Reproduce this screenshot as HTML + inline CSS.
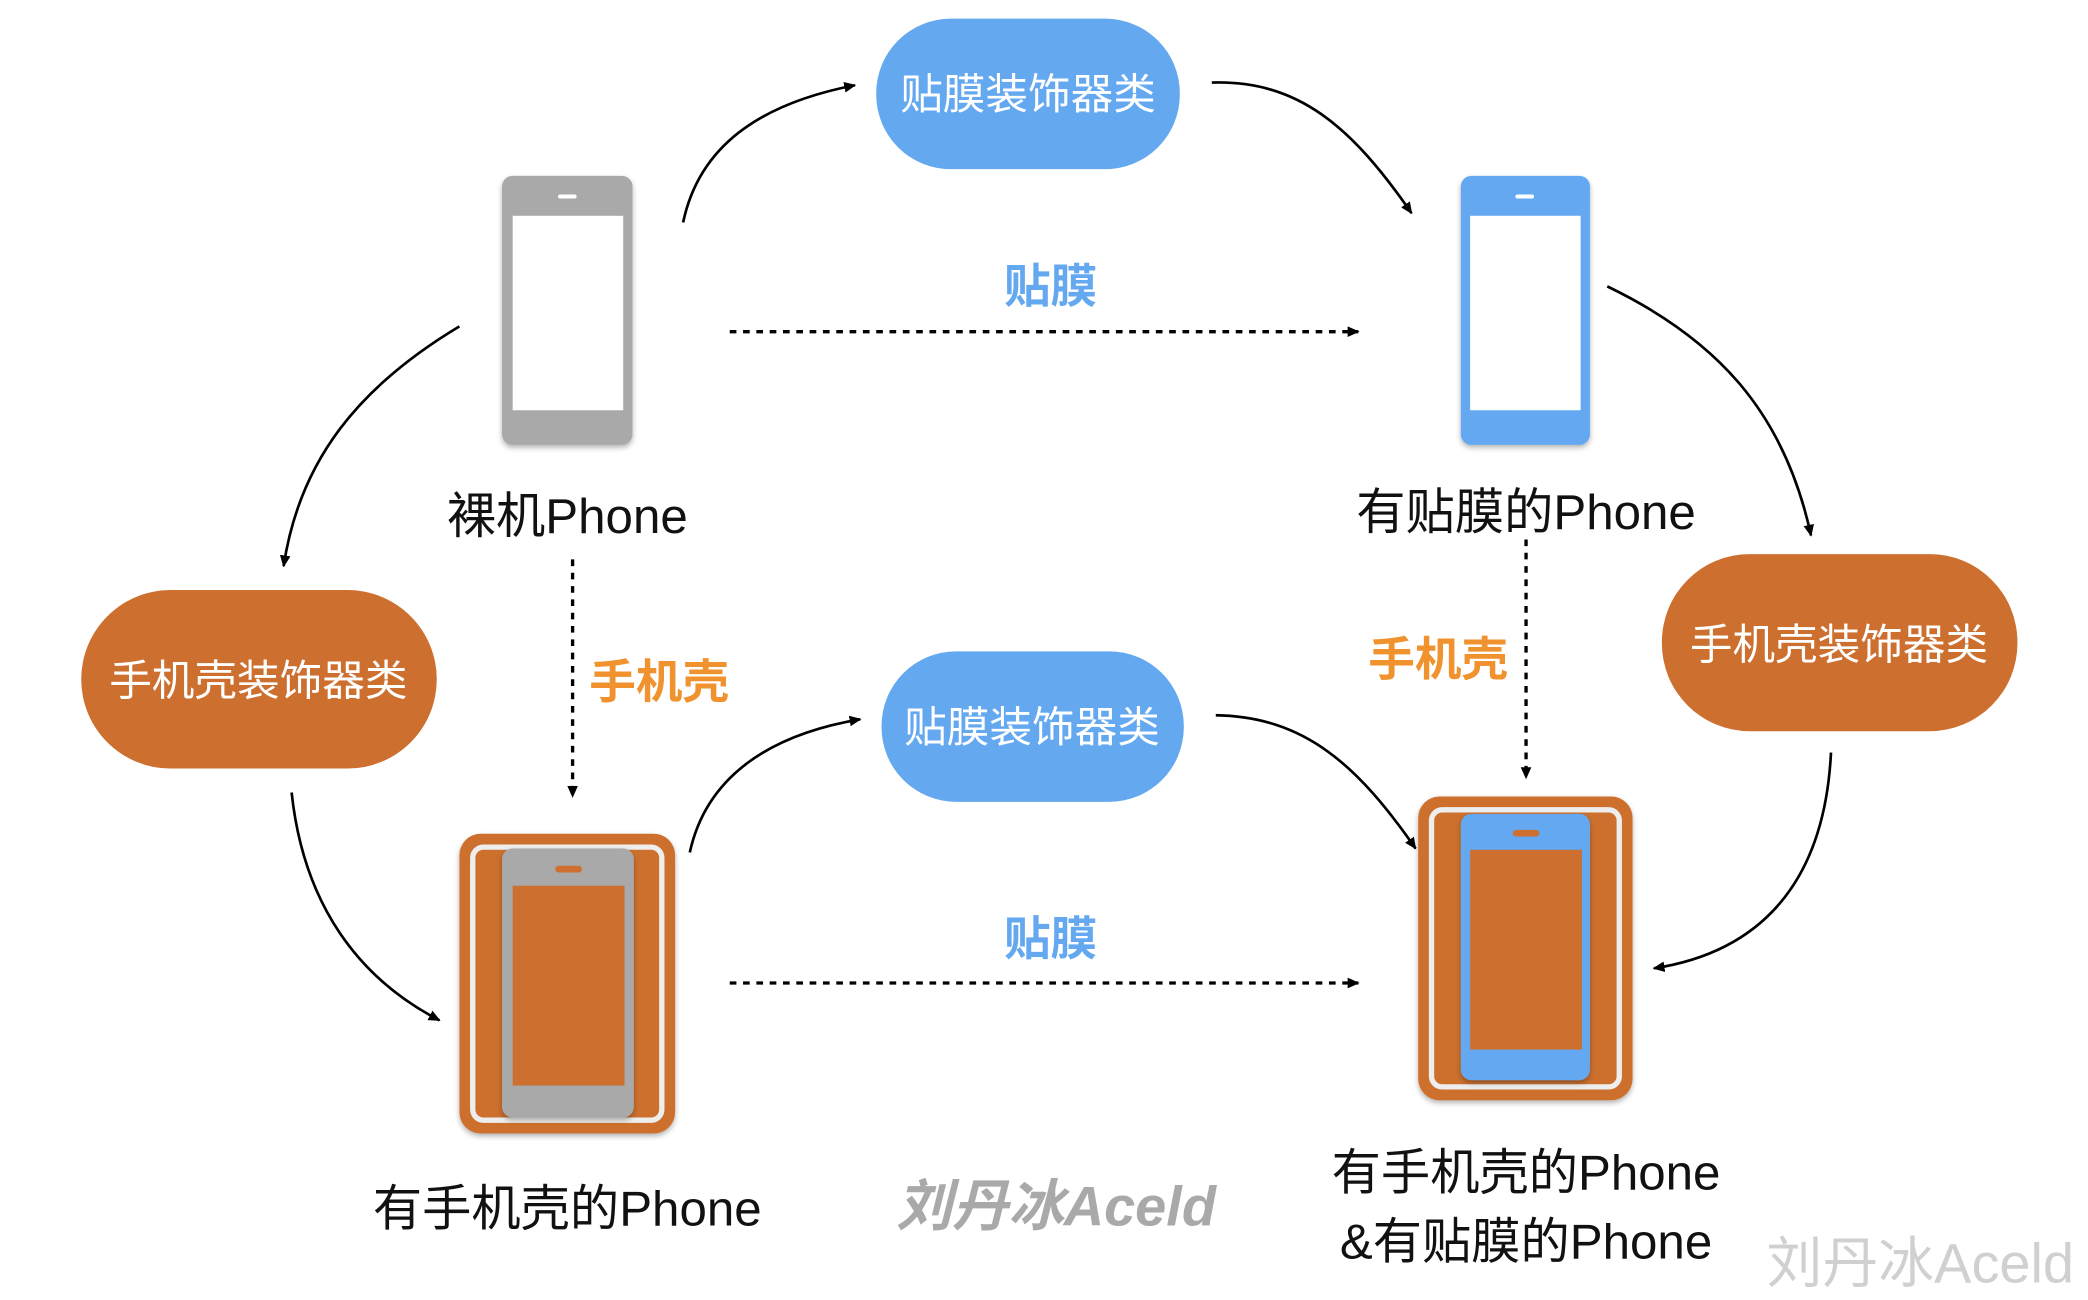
<!DOCTYPE html>
<html><head><meta charset="utf-8"><style>
html,body{margin:0;padding:0;background:#fff;}
svg{display:block;}
text{font-family:"Liberation Sans","Noto Sans CJK SC",sans-serif;}
</style></head><body>
<svg width="2088" height="1300" viewBox="0 0 1568 976" preserveAspectRatio="none" xmlns="http://www.w3.org/2000/svg">
<defs>
<marker id="a" markerWidth="10" markerHeight="10" refX="8" refY="5" orient="auto" markerUnits="userSpaceOnUse"><path d="M0,1 L9,5 L0,9 Z" fill="#000"/></marker>
<filter id="sh" x="-20%" y="-20%" width="140%" height="140%"><feDropShadow dx="0" dy="2" stdDeviation="2" flood-opacity="0.3"/></filter>
</defs>
<rect x="658" y="14" width="228" height="113" rx="56" fill="#64a8f0"/>
<text x="772" y="82" font-size="32" fill="#fff" text-anchor="middle">贴膜装饰器类</text>
<rect x="662" y="489" width="227" height="113" rx="56" fill="#64a8f0"/>
<text x="775" y="557" font-size="32" fill="#fff" text-anchor="middle">贴膜装饰器类</text>
<rect x="61" y="443" width="267" height="134" rx="67" fill="#cd6f2f"/>
<text x="194" y="522" font-size="32" fill="#fff" text-anchor="middle">手机壳装饰器类</text>
<rect x="1248" y="416" width="267" height="133" rx="66" fill="#cd6f2f"/>
<text x="1381" y="495" font-size="32" fill="#fff" text-anchor="middle">手机壳装饰器类</text>
<g filter="url(#sh)"><rect x="377" y="132" width="98" height="202" rx="8" fill="#a8a9a8"/></g>
<rect x="385" y="162" width="83" height="146" fill="#fff"/>
<rect x="419" y="146" width="14" height="3" rx="1.5" fill="#fff"/>
<g filter="url(#sh)"><rect x="1097" y="132" width="97" height="202" rx="8" fill="#64a8f0"/></g>
<rect x="1104" y="162" width="83" height="146" fill="#fff"/>
<rect x="1138" y="146" width="14" height="3" rx="1.5" fill="#fff"/>
<g filter="url(#sh)"><rect x="345" y="626" width="162" height="225" rx="16" fill="#cd6f2f"/></g>
<rect x="355" y="636" width="142" height="205" rx="8" fill="none" stroke="#eee" stroke-width="4"/>
<g filter="url(#sh)"><rect x="377" y="637" width="99" height="202" rx="8" fill="#a8a9a8"/></g>
<rect x="385" y="665" width="84" height="150" fill="#cd6f2f"/>
<rect x="417" y="650" width="20" height="5" rx="2.5" fill="#cd6f2f"/>
<g filter="url(#sh)"><rect x="1065" y="598" width="161" height="228" rx="16" fill="#cd6f2f"/></g>
<rect x="1075" y="608" width="141" height="208" rx="8" fill="none" stroke="#eee" stroke-width="4"/>
<g filter="url(#sh)"><rect x="1097" y="611" width="97" height="200" rx="8" fill="#64a8f0"/></g>
<rect x="1104" y="638" width="84" height="150" fill="#cd6f2f"/>
<rect x="1136" y="623" width="20" height="5" rx="2.5" fill="#cd6f2f"/>
<text x="426" y="400" font-size="37" fill="#111" text-anchor="middle">裸机Phone</text>
<text x="1146" y="397" font-size="37" fill="#111" text-anchor="middle">有贴膜的Phone</text>
<text x="426" y="920" font-size="37" fill="#111" text-anchor="middle">有手机壳的Phone</text>
<text x="1146" y="893" font-size="37" fill="#111" text-anchor="middle">有手机壳的Phone</text>
<text x="1146" y="945" font-size="37" fill="#111" text-anchor="middle">&amp;有贴膜的Phone</text>
<text x="789" y="227" font-size="35" font-weight="bold" fill="#64a8f0" text-anchor="middle">贴膜</text>
<text x="789" y="717" font-size="35" font-weight="bold" fill="#64a8f0" text-anchor="middle">贴膜</text>
<text x="495" y="524" font-size="35" font-weight="bold" fill="#f0922e" text-anchor="middle">手机壳</text>
<text x="1080" y="507" font-size="35" font-weight="bold" fill="#f0922e" text-anchor="middle">手机壳</text>
<text x="793" y="920" font-size="42" font-style="italic" font-weight="bold" fill="#a8a9a8" text-anchor="middle">刘丹冰Aceld</text>
<text x="1442" y="963" font-size="42" fill="#d0d0d0" text-anchor="middle">刘丹冰Aceld</text>
<g stroke="#000" stroke-width="2.5" stroke-dasharray="5,5" fill="none">
<line x1="548" y1="249" x2="1020" y2="249" marker-end="url(#a)"/>
<line x1="548" y1="738" x2="1020" y2="738" marker-end="url(#a)"/>
<line x1="430" y1="420" x2="430" y2="598" marker-end="url(#a)"/>
<line x1="1146" y1="405" x2="1146" y2="584" marker-end="url(#a)"/>
</g>
<g stroke="#000" stroke-width="2" fill="none" marker-end="url(#a)">
<path d="M513,167 C525,110 570,78 642,64"/>
<path d="M910,62 C975,60 1015,95 1060,160"/>
<path d="M1207,215 C1290,255 1340,310 1360,402"/>
<path d="M345,245 C270,290 225,345 213,425"/>
<path d="M219,595 C228,680 270,735 330,766"/>
<path d="M518,640 C530,585 575,552 646,540"/>
<path d="M913,537 C980,538 1020,575 1063,637"/>
<path d="M1375,565 C1370,665 1320,715 1242,727"/>
</g>
</svg>
</body></html>
